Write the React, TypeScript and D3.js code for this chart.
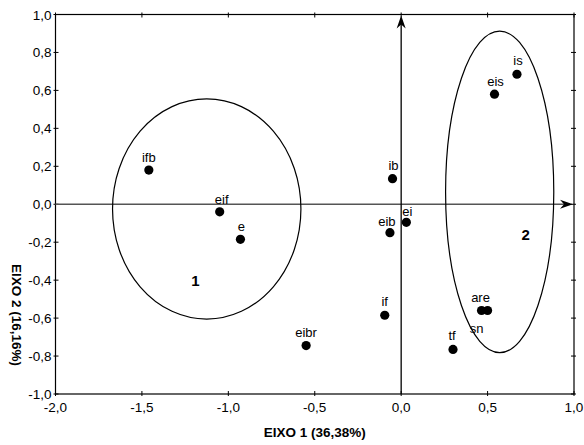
import React from "react";
import * as d3 from "d3";

const labels = ["ifb", "eif", "e", "ib", "eib", "ei", "eis", "is", "if", "eibr", "are", "sn", "tf"];
const xValues = [-1.46, -1.05, -0.93, -0.05, -0.065, 0.03, 0.54, 0.67, -0.095, -0.55, 0.465, 0.5, 0.3];
const yValues = [0.18, -0.04, -0.185, 0.135, -0.15, -0.095, 0.58, 0.685, -0.585, -0.745, -0.56, -0.56, -0.765];
// label offsets (px) relative to the point
const labelDx = [0, 2, 1, 1, -3, 1, 1, 1, 0, 0, -1, -11, -1];
const labelDy = [-8, -8, -8, -9, -7, -6, -8, -9, -9, -9, -9, 22, -9];

const xTicks = [-2.0, -1.5, -1.0, -0.5, 0.0, 0.5, 1.0];
const yTicks = [-1.0, -0.8, -0.6, -0.4, -0.2, 0.0, 0.2, 0.4, 0.6, 0.8, 1.0];

const groupNames = ["1", "2"];
const groupCx = [-1.125, 0.57];
const groupCy = [-0.025, 0.065];
const groupRx = [0.545, 0.313];
const groupRy = [0.58, 0.847];
const groupLabelX = [-1.19, 0.72];
const groupLabelY = [-0.43, -0.19];

const xTitle = "EIXO 1 (36,38%)";
const yTitle = "EIXO 2 (16,16%)";

const fmt = (v: number) => v.toFixed(1).replace(".", ",");

export default function App() {
  const W = 584, H = 445;
  const left = 55.5, right = 574, top = 14.5, bottom = 394;
  const x = d3.scaleLinear().domain([-2, 1]).range([left, right]);
  const y = d3.scaleLinear().domain([-1, 1]).range([bottom, top]);
  const font = "Liberation Sans, Arial, sans-serif";
  const x0 = x(0), y0 = y(0);

  return (
    <svg width={W} height={H} style={{ position: "absolute", left: 0, top: 0, background: "#fff" }} fontFamily={font}>
      <rect x={0} y={0} width={W} height={H} fill="#fff" />
      {/* frame */}
      <rect x={left} y={top} width={right - left} height={bottom - top} fill="none" stroke="#000" strokeWidth={1.2} />
      {/* ticks */}
      {xTicks.map((t, i) => (
        <g key={"xt" + i}>
          <line x1={x(t)} x2={x(t)} y1={bottom - 3} y2={bottom + 2} stroke="#000" />
          <line x1={x(t)} x2={x(t)} y1={top - 2} y2={top + 3} stroke="#000" />
          <text x={x(t)} y={bottom + 18} fontSize={13.5} textAnchor="middle" fill="#000">{fmt(t)}</text>
        </g>
      ))}
      {yTicks.map((t, i) => (
        <g key={"yt" + i}>
          <line x1={left - 2} x2={left + 3} y1={y(t)} y2={y(t)} stroke="#000" />
          <line x1={right - 3} x2={right + 2} y1={y(t)} y2={y(t)} stroke="#000" />
          <text x={left - 4} y={y(t) + 5} fontSize={13.5} textAnchor="end" fill="#000">{fmt(t)}</text>
        </g>
      ))}
      {/* axes through origin */}
      <line x1={left} x2={right - 4} y1={y0} y2={y0} stroke="#555" strokeWidth={1.6} />
      <path d={`M${right - 1},${y0} L${right - 14},${y0 - 4.5} L${right - 10},${y0} L${right - 14},${y0 + 4.5} Z`} fill="#000" />
      <line x1={x0} x2={x0} y1={bottom} y2={top + 4} stroke="#000" strokeWidth={1.3} />
      <path d={`M${x0},${top + 1} L${x0 - 4.5},${top + 14} L${x0},${top + 10} L${x0 + 4.5},${top + 14} Z`} fill="#000" />
      {/* ellipses */}
      {groupNames.map((g, i) => (
        <g key={"g" + i}>
          <ellipse cx={x(groupCx[i])} cy={y(groupCy[i])} rx={x(groupRx[i]) - x(0)} ry={y(0) - y(groupRy[i])} fill="none" stroke="#000" strokeWidth={1.2} />
          <text x={x(groupLabelX[i])} y={y(groupLabelY[i])} fontSize={15} fontWeight="bold" textAnchor="middle" fill="#000">{g}</text>
        </g>
      ))}
      {/* points */}
      {labels.map((l, i) => (
        <g key={"p" + i}>
          <circle cx={x(xValues[i])} cy={y(yValues[i])} r={4.6} fill="#000" />
          <text x={x(xValues[i]) + labelDx[i]} y={y(yValues[i]) + labelDy[i]} fontSize={13} textAnchor="middle" fill="#000">{l}</text>
        </g>
      ))}
      {/* titles */}
      <text x={(left + right) / 2} y={437} fontSize={13.5} fontWeight="bold" textAnchor="middle" fill="#000">{xTitle}</text>
      <text transform={`translate(12,${315}) rotate(90)`} fontSize={13.5} fontWeight="bold" textAnchor="middle" fill="#000">{yTitle}</text>
    </svg>
  );
}
